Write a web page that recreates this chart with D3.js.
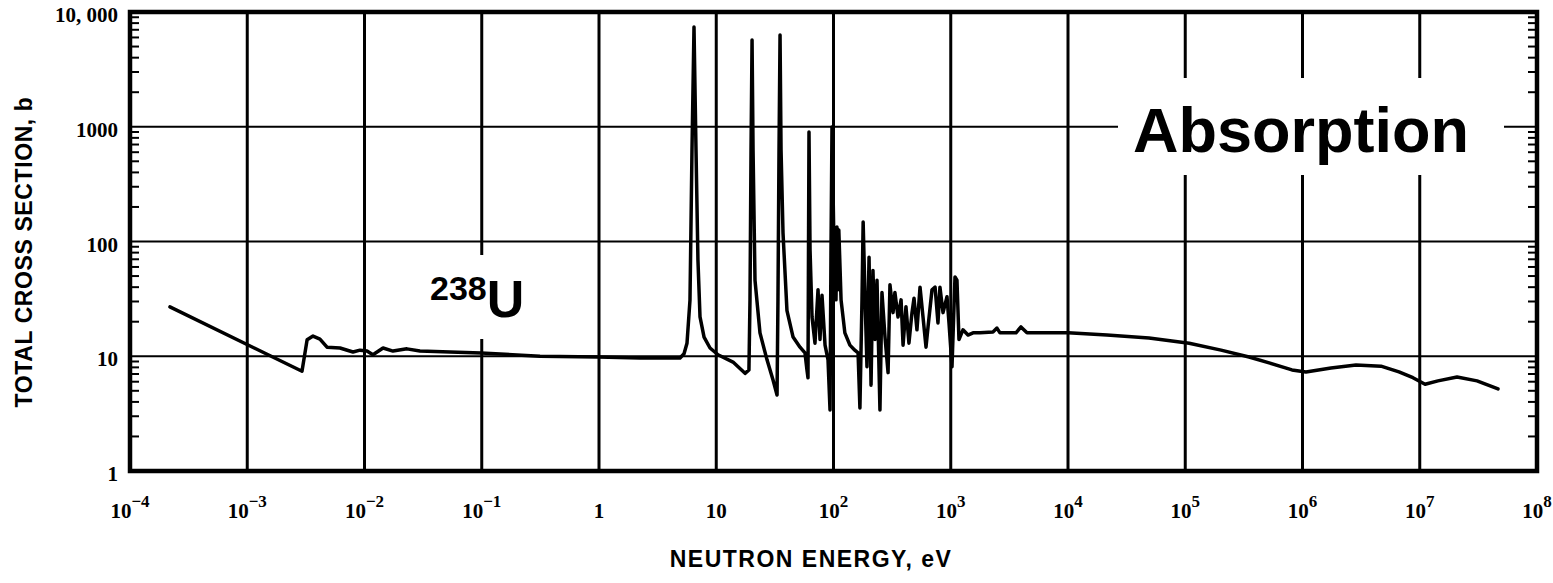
<!DOCTYPE html>
<html>
<head>
<meta charset="utf-8">
<script src="https://cdn.jsdelivr.net/npm/d3@7"></script>
<style>
  html, body { margin: 0; padding: 0; background: #fff; }
  svg { display: block; }
</style>
</head>
<body>
<svg id="chart" width="1553" height="583"></svg>
<script>
// ---- data ----
const energy = [
  2.19e-4, 2.93e-3, 3.24e-3, 3.64e-3, 4.17e-3, 4.79e-3, 6.18e-3, 7.98e-3, 9.16e-3, 0.0105,
  0.0118, 0.0144, 0.0175, 0.0230, 0.0297, 0.0536, 0.0986, 0.314, 0.98, 2.24,
  4.91, 5.31, 5.63, 5.97, 6.21, 6.46, 6.72, 6.98, 7.27, 7.87,
  8.85, 10.35, 13.9, 17.6, 19.0, 19.4, 19.8, 20.2, 20.6, 21.4,
  23.6, 27.1, 30.5, 33.0, 33.6, 34.3, 35.0, 35.7, 37.1, 40.1,
  45.2, 51.8, 57.1, 59.4, 60.6, 61.2, 61.8, 63.1, 65.6, 69.5,
  73.8, 76.7, 79.8, 84.7, 89.8, 93.4, 95.2, 97.1, 101, 105,
  107, 109, 111, 116, 125, 138, 152, 162, 168, 175,
  179, 186, 193, 201, 209, 217, 226, 235, 249, 259,
  275, 292, 303, 322, 334, 355, 377, 392, 415, 440,
  467, 486, 515, 547, 580, 615, 640, 692, 735, 778,
  809, 859, 929, 966, 1025, 1087, 1130, 1175, 1271, 1403,
  1549, 1775, 2291, 2477, 2630, 3600, 3970, 4470, 1e4, 2.15e4,
  4.91e4, 1.08e5, 2.02e5, 3.5e5, 5.28e5, 8.13e5, 1.07e6, 1.75e6, 2.86e6, 4.67e6,
  6.65e6, 8.75e6, 1.11e7, 1.43e7, 2.08e7, 3.08e7, 4.65e7
];
const sigma = [
  26.9, 7.4, 13.9, 15.0, 14.1, 12.0, 11.8, 10.9, 11.3, 11.1,
  10.3, 11.8, 11.1, 11.6, 11.1, 10.9, 10.7, 10.0, 9.86, 9.66,
  9.66, 10.5, 13.0, 30.9, 627, 7400, 627, 69, 22, 14.7,
  11.8, 10.3, 8.9, 7.1, 7.6, 31, 627, 5700, 627, 46,
  16, 9.3, 6.2, 4.6, 31, 627, 6300, 627, 119, 25,
  14.7, 12, 10.7, 7.6, 6.5, 84, 900, 84, 22, 13,
  38, 14, 34, 12.5, 9.3, 3.4, 84, 995, 84, 31,
  134, 38, 126, 31, 16, 12.5, 11.3, 10.7, 3.54, 31,
  148, 31, 8.1, 73, 5.6, 56, 14, 46, 3.4, 36,
  14.7, 7.2, 42, 24, 36, 22, 31, 12.5, 27, 13,
  24, 32, 17, 40, 22, 12, 18, 38, 40, 19.5,
  40, 24, 33, 19.5, 8.1, 49, 46, 14, 17, 15.3,
  16, 16, 16.3, 17.6, 16, 16, 18, 16, 16, 15.3,
  14.4, 13.0, 11.3, 9.86, 8.7, 7.6, 7.3, 7.9, 8.4, 8.2,
  7.3, 6.5, 5.7, 6.1, 6.6, 6.1, 5.2
];
const xDecades = [-4, -3, -2, -1, 0, 1, 2, 3, 4, 5, 6, 7, 8];
const yDecades = [0, 1, 2, 3, 4];
const yTickLabels = ["1", "10", "100", "1000", "10, 000"];
const xTitle = "NEUTRON ENERGY, eV";
const yTitle = "TOTAL CROSS SECTION, b";
const bigLabel = "Absorption";
const isoMass = "238";
const isoSymbol = "U";

// ---- chart ----
const svg = d3.select("#chart");
const x = d3.scaleLog().domain([1e-4, 1e8]).range([130, 1537]);
const y = d3.scaleLog().domain([1, 1e4]).range([471, 12]);

const serif = "'Liberation Serif', 'DejaVu Serif', serif";
const sans = "'Liberation Sans', Arial, sans-serif";

// grid lines
svg.append("g").selectAll("line")
  .data(yDecades.slice(1, -1))
  .join("line")
  .attr("x1", x(1e-4)).attr("x2", x(1e8))
  .attr("y1", d => y(Math.pow(10, d))).attr("y2", d => y(Math.pow(10, d)))
  .attr("stroke", "#000").attr("stroke-width", 2.2);

svg.append("g").selectAll("line")
  .data(xDecades.slice(1, -1))
  .join("line")
  .attr("x1", d => x(Math.pow(10, d))).attr("x2", d => x(Math.pow(10, d)))
  .attr("y1", y(1)).attr("y2", y(1e4))
  .attr("stroke", "#000").attr("stroke-width", 3);

// minor ticks on left and right axes (inside)
const minor = [];
for (let d = 0; d < 4; d++) for (let m = 2; m <= 9; m++) minor.push(m * Math.pow(10, d));
svg.append("g").selectAll("line")
  .data(minor)
  .join("line")
  .attr("x1", x(1e-4)).attr("x2", x(1e-4) + 9)
  .attr("y1", d => y(d)).attr("y2", d => y(d))
  .attr("stroke", "#000").attr("stroke-width", 2);
svg.append("g").selectAll("line")
  .data(minor)
  .join("line")
  .attr("x1", x(1e8)).attr("x2", x(1e8) - 9)
  .attr("y1", d => y(d)).attr("y2", d => y(d))
  .attr("stroke", "#000").attr("stroke-width", 2);

// white label boxes
svg.append("rect")
  .attr("x", 1118).attr("y", 78).attr("width", 386).attr("height", 97)
  .attr("fill", "#fff");
svg.append("rect")
  .attr("x", 425).attr("y", 255).attr("width", 107).attr("height", 84)
  .attr("fill", "#fff");

// frame
svg.append("rect")
  .attr("x", x(1e-4)).attr("y", y(1e4))
  .attr("width", x(1e8) - x(1e-4)).attr("height", y(1) - y(1e4))
  .attr("fill", "none").attr("stroke", "#000").attr("stroke-width", 4.5);

// data curve
const line = d3.line()
  .x((d, i) => x(energy[i]))
  .y((d, i) => y(sigma[i]));
svg.append("path")
  .datum(energy)
  .attr("d", line)
  .attr("fill", "none")
  .attr("stroke", "#000")
  .attr("stroke-width", 3.5)
  .attr("stroke-linejoin", "round")
  .attr("stroke-linecap", "round");

// y tick labels
svg.append("g").selectAll("text")
  .data(yDecades)
  .join("text")
  .attr("x", 118)
  .attr("y", d => y(Math.pow(10, d)) + 10)
  .attr("text-anchor", "end")
  .attr("font-family", serif)
  .attr("font-weight", "bold")
  .attr("font-size", 21)
  .text((d, i) => yTickLabels[i]);

// x tick labels
const xt = svg.append("g").selectAll("text")
  .data(xDecades)
  .join("text")
  .attr("x", d => x(Math.pow(10, d)))
  .attr("y", 518)
  .attr("text-anchor", "middle")
  .attr("font-family", serif)
  .attr("font-weight", "bold")
  .attr("font-size", 21);
xt.each(function(d) {
  const t = d3.select(this);
  if (d === 0) { t.text("1"); return; }
  if (d === 1) { t.text("10"); return; }
  t.append("tspan").text("10");
  t.append("tspan").attr("dy", -11).attr("font-size", 17).text(String(d).replace("-", "\u2212"));
});

// axis titles
svg.append("text")
  .attr("x", 811).attr("y", 567)
  .attr("text-anchor", "middle")
  .attr("font-family", sans).attr("font-weight", "bold")
  .attr("font-size", 23).attr("letter-spacing", 1.5)
  .text(xTitle);
svg.append("text")
  .attr("transform", "translate(32,252) rotate(-90)")
  .attr("text-anchor", "middle")
  .attr("font-family", sans).attr("font-weight", "bold")
  .attr("font-size", 23).attr("letter-spacing", 0.6)
  .text(yTitle);

// annotations
svg.append("text")
  .attr("x", 1133).attr("y", 152)
  .attr("font-family", sans).attr("font-weight", "bold")
  .attr("font-size", 63)
  .text(bigLabel);
const iso = svg.append("text")
  .attr("x", 430).attr("y", 317)
  .attr("font-family", sans).attr("font-weight", "bold");
iso.append("tspan").attr("font-size", 34).attr("dy", -17).text(isoMass);
iso.append("tspan").attr("font-size", 52).attr("dy", 17).text(isoSymbol);
</script>
</body>
</html>
